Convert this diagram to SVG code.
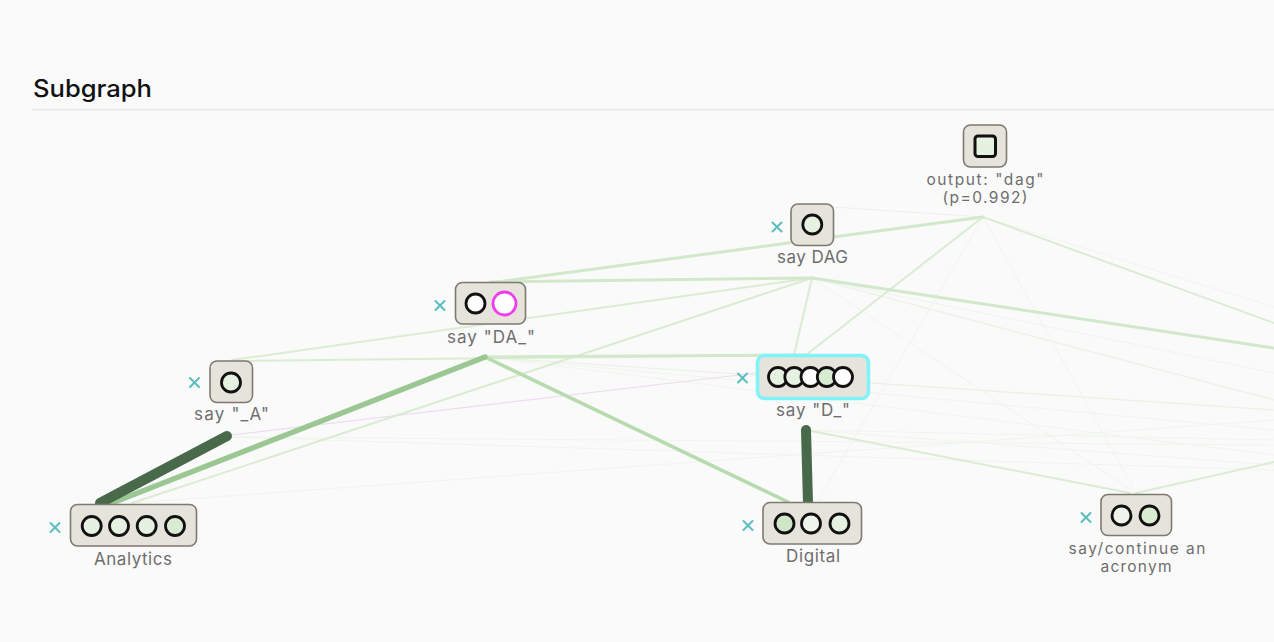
<svg xmlns="http://www.w3.org/2000/svg" width="1274" height="642" viewBox="0 0 1274 642">
<style>
.bg{fill:#fafafa}
.title{font-family:Inter,"Liberation Sans",sans-serif;font-size:24px;font-weight:500;fill:#111}
.lbl{font-family:Inter,"Liberation Sans",Arial,sans-serif;font-size:17px;fill:#6e6e6e;text-anchor:middle}
.sm{font-size:15.5px}
.box{fill:#e6e3da;stroke:#7d7a72;stroke-width:1.6}
.sel{fill:#e6e3da;stroke:#7ff2fa;stroke-width:3.5}
.c{stroke:#111;stroke-width:2.8}
.g1{fill:#e6f2e1}.g2{fill:#d8ecd1}.g3{fill:#cfe7c7}.w{fill:#ffffff}.g0{fill:#eef3ec}
.x{stroke:#5bbdbd;stroke-width:2;stroke-linecap:round}
.e{fill:none;stroke-linecap:round}
.f1{stroke:#d2e8ca;stroke-width:3}
.f2{stroke:#daecd3;stroke-width:2}
.f3{stroke:#e8f2e4;stroke-width:1.2}
.f4{stroke:#eff5ec;stroke-width:1}
</style>
<rect class="bg" x="0" y="0" width="1274" height="642"/>
<text class="title" x="33" y="97" textLength="119" lengthAdjust="spacingAndGlyphs">Subgraph</text>
<line x1="32" y1="109.5" x2="1274" y2="109.5" stroke="#e6e6e6" stroke-width="1.5"/>

<g id="connectors">
  <line class="e f4" x1="228" y1="437" x2="1274" y2="470"/>
  <line class="e f4" x1="228" y1="437" x2="1274" y2="445"/>
  <line class="e f4" x1="485" y1="357" x2="1274" y2="455"/>
  <line class="e f4" x1="485" y1="357" x2="1274" y2="430"/>
  <line class="e f3" x1="485" y1="357" x2="1274" y2="410"/>
  <line class="e f4" x1="132" y1="503" x2="1274" y2="420"/>
  <line class="e f4" x1="806" y1="430" x2="1274" y2="440"/>
  <line class="e f4" x1="806" y1="430" x2="1274" y2="465"/>
  <line class="e f3" x1="812" y1="278" x2="1274" y2="400"/>
  <line class="e f4" x1="812" y1="278" x2="1274" y2="373"/>
  <line class="e f4" x1="812" y1="278" x2="1136" y2="493"/>
  <line class="e f4" x1="983" y1="217" x2="1274" y2="307"/>
  <line class="e f4" x1="983" y1="217" x2="1136" y2="493"/>
  <line class="e f4" x1="983" y1="217" x2="817" y2="502"/>
  <line class="e f3" x1="983" y1="217" x2="833" y2="207"/>
  <line class="e" stroke="#eedcf0" stroke-width="1.2" x1="231" y1="435" x2="756" y2="373"/>
  <line class="e f2" x1="232" y1="360" x2="812" y2="278"/>
  <line class="e f2" x1="232" y1="361" x2="806" y2="355"/>
  <line class="e f2" x1="132" y1="503" x2="812" y2="278"/>
  <line class="e f2" x1="812" y1="278" x2="794" y2="355"/>
  <line class="e f2" x1="983" y1="217" x2="806" y2="355"/>
  <line class="e f2" x1="983" y1="217" x2="1274" y2="323"/>
  <line class="e f2" x1="1136" y1="493" x2="1274" y2="462"/>
  <line class="e f2" x1="806" y1="430" x2="1130" y2="493"/>
  <line class="e f1" x1="490" y1="283" x2="983" y2="217"/>
  <line class="e f1" x1="490" y1="282" x2="812" y2="278"/>
  <line class="e f1" x1="812" y1="278" x2="1274" y2="348"/>
  <line class="e f1" x1="485" y1="357" x2="806" y2="355"/>
  <line class="e" stroke="#b7dbae" stroke-width="3.5" x1="485" y1="357" x2="788" y2="502"/>
  <line class="e" stroke="#9bc793" stroke-width="5.5" x1="485" y1="357" x2="112" y2="503"/>
  <line class="e" stroke="#486a4b" stroke-width="10" x1="227" y1="436" x2="100" y2="503"/>
  <line class="e" stroke="#486a4b" stroke-width="10" x1="806" y1="430" x2="808" y2="503"/>
</g>

<g id="node-output">
  <rect class="box" x="963.5" y="125" width="43" height="42" rx="7"/>
  <rect x="975" y="136" width="20.5" height="20.5" rx="3" fill="#e6f2e1" stroke="#111" stroke-width="3"/>
  <text class="lbl sm" x="985" y="185" textLength="117" lengthAdjust="spacing">output: "dag"</text>
  <text class="lbl sm" x="985" y="203" textLength="85" lengthAdjust="spacing">(p=0.992)</text>
</g>

<g id="node-say-dag">
  <path class="x" d="M772.5 222.5l9 9M781.5 222.5l-9 9"/>
  <rect class="box" x="791" y="204" width="42.5" height="41.5" rx="7"/>
  <circle class="c g1" cx="812.3" cy="224.5" r="9.5"/>
  <text class="lbl" x="812.5" y="263" textLength="71" lengthAdjust="spacing">say DAG</text>
</g>

<g id="node-say-da">
  <path class="x" d="M435.5 301l9 9M444.5 301l-9 9"/>
  <rect class="box" x="455.5" y="282.5" width="70" height="41.5" rx="7"/>
  <circle class="c w" cx="475.5" cy="303.5" r="9.5"/>
  <circle cx="504.5" cy="303.5" r="11.5" fill="#ffffff" stroke="#ee3ef0" stroke-width="2.8"/>
  <text class="lbl" x="491" y="343" textLength="88" lengthAdjust="spacing">say "DA_"</text>
</g>

<g id="node-say-a">
  <path class="x" d="M190 378l9 9M199 378l-9 9"/>
  <rect class="box" x="210" y="361" width="42.5" height="41.5" rx="7"/>
  <circle class="c g1" cx="231" cy="382.5" r="9.5"/>
  <text class="lbl" x="231.5" y="420" textLength="75" lengthAdjust="spacing">say "_A"</text>
</g>

<g id="node-say-d">
  <path class="x" d="M738 373.5l9 9M747 373.5l-9 9"/>
  <rect class="sel" x="757.5" y="355.5" width="111" height="43" rx="7"/>
  <circle class="c g1" cx="778" cy="377" r="9.5"/>
  <circle class="c g1" cx="794.3" cy="377" r="9.5"/>
  <circle class="c w" cx="810.5" cy="377" r="9.5"/>
  <circle class="c g2" cx="826.8" cy="377" r="9.5"/>
  <circle class="c w" cx="843" cy="377" r="9.5"/>
  <text class="lbl" x="813" y="416" textLength="74" lengthAdjust="spacing">say "D_"</text>
</g>

<g id="node-analytics">
  <path class="x" d="M50.5 523l9 9M59.5 523l-9 9"/>
  <rect class="box" x="70.5" y="504.5" width="126" height="41.5" rx="7"/>
  <circle class="c g1" cx="91.7" cy="526" r="9.5"/>
  <circle class="c g1" cx="119" cy="526" r="9.5"/>
  <circle class="c g1" cx="146.7" cy="526" r="9.5"/>
  <circle class="c g2" cx="175" cy="526" r="9.5"/>
  <text class="lbl" x="133" y="565" textLength="78" lengthAdjust="spacing">Analytics</text>
</g>

<g id="node-digital">
  <path class="x" d="M743.5 521l9 9M752.5 521l-9 9"/>
  <rect class="box" x="763" y="502.5" width="98.5" height="41.5" rx="7"/>
  <circle class="c g3" cx="784.5" cy="523.5" r="9.5"/>
  <circle class="c g0" cx="811" cy="523.5" r="9.5"/>
  <circle class="c g1" cx="839.5" cy="523.5" r="9.5"/>
  <text class="lbl" x="813" y="562" textLength="54" lengthAdjust="spacing">Digital</text>
</g>

<g id="node-acronym">
  <path class="x" d="M1081.5 513l9 9M1090.5 513l-9 9"/>
  <rect class="box" x="1101" y="494.5" width="70.5" height="41" rx="7"/>
  <circle class="c g0" cx="1121.5" cy="515.5" r="9.5"/>
  <circle class="c g2" cx="1149.5" cy="515.5" r="9.5"/>
  <text class="lbl sm" x="1137" y="554" textLength="137" lengthAdjust="spacing">say/continue an</text>
  <text class="lbl sm" x="1136" y="572" textLength="71" lengthAdjust="spacing">acronym</text>
</g>
</svg>
